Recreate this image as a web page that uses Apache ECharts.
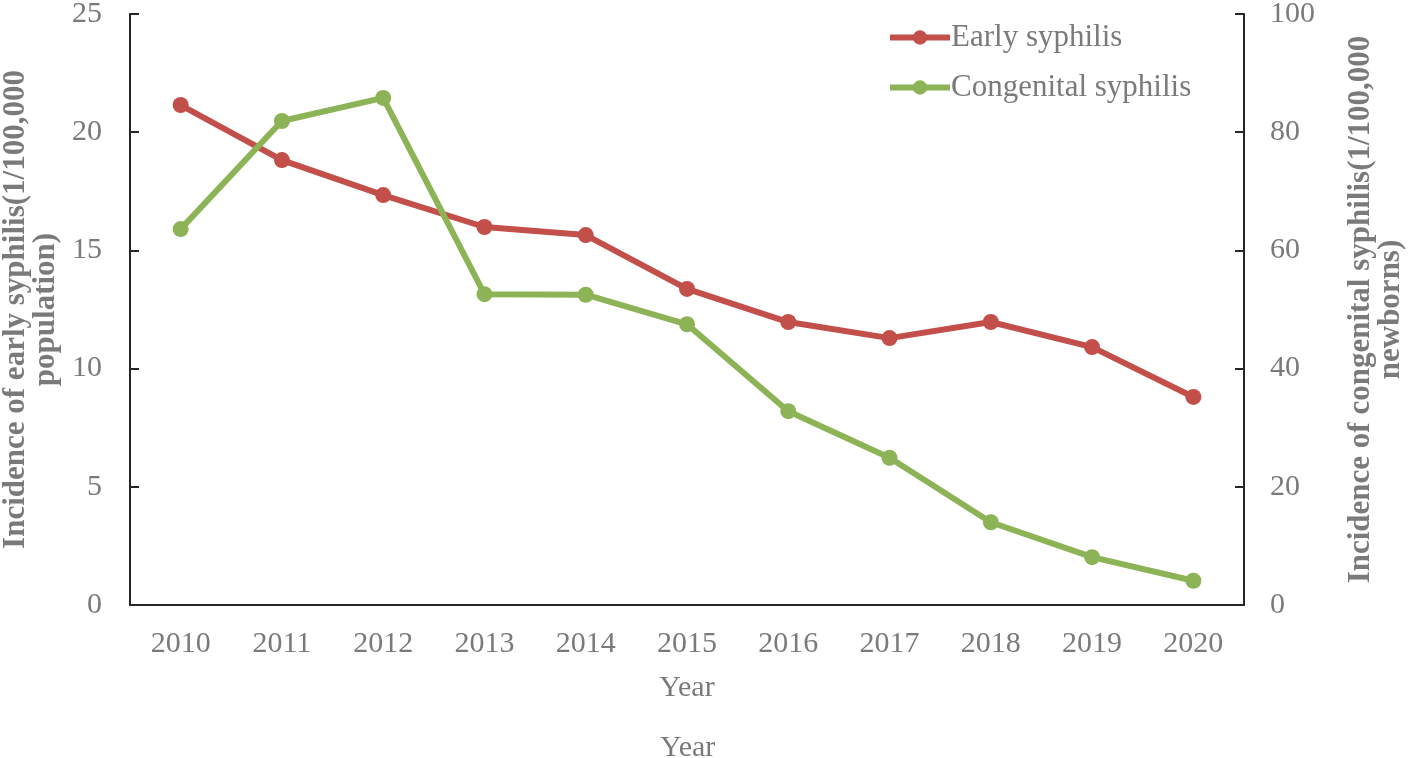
<!DOCTYPE html>
<html>
<head>
<meta charset="utf-8">
<script src="https://cdn.jsdelivr.net/npm/echarts@6/dist/echarts.min.js"></script>
<style>html,body{margin:0;padding:0;background:#fff;}#c{width:1408px;height:758px;}</style>
</head>
<body>
<div id="c"></div>
<script>
const years = ['2010','2011','2012','2013','2014','2015','2016','2017','2018','2019','2020'];
const earlySyphilis = [21.15, 18.82, 17.34, 15.99, 15.65, 13.37, 11.97, 11.29, 11.97, 10.91, 8.80];
const congenitalSyphilis = [63.6, 81.9, 85.8, 52.6, 52.5, 47.5, 32.8, 24.9, 14.0, 8.1, 4.1];
const leftTicks = {min: 0, max: 25, interval: 5};
const rightTicks = {min: 0, max: 100, interval: 20};

const FONT = '"Liberation Serif", "Times New Roman", serif';
const GRAY = '#7a7a7a';
const AXIS = '#262626';
const chart = echarts.init(document.getElementById('c'));
chart.setOption({
  animation: false,
  textStyle: {fontFamily: FONT},
  title: {
    text: 'Year', left: 660, top: 733, padding: 0,
    textStyle: {fontFamily: FONT, fontSize: 30, fontWeight: 'normal', color: GRAY}
  },
  legend: {
    orient: 'vertical', left: 882, top: 17,
    itemWidth: 60, itemHeight: 18, itemGap: 19,
    lineStyle: {width: 6},
    textStyle: {fontFamily: FONT, fontSize: 31, color: GRAY, lineHeight: 30, padding: [0,0,0,-4]},
    data: ['Early syphilis', 'Congenital syphilis']
  },
  grid: {left: 130, right: 164, top: 14, bottom: 153, outerBoundsMode: 'none', containLabel: false},
  xAxis: {
    type: 'category', data: years, boundaryGap: true,
    name: 'Year', nameLocation: 'middle', nameGap: 68,
    nameTextStyle: {fontFamily: FONT, fontSize: 30, color: GRAY},
    axisLine: {lineStyle: {color: AXIS, width: 2}},
    axisTick: {inside: true, length: 9, lineStyle: {color: AXIS, width: 2}, interval: 0},
    axisLabel: {fontFamily: FONT, fontSize: 30, color: GRAY, margin: 24, interval: 0},
    splitLine: {show: false}
  },
  yAxis: [{
    type: 'value', min: leftTicks.min, max: leftTicks.max, interval: leftTicks.interval,
    name: 'Incidence of early syphilis(1/100,000\npopulation)', nameLocation: 'middle', nameGap: 68, nameRotate: 90,
    nameTextStyle: {fontFamily: FONT, fontSize: 31, fontWeight: 'bold', color: GRAY, lineHeight: 30},
    axisLine: {show: true, lineStyle: {color: AXIS, width: 2}},
    axisTick: {show: true, inside: true, length: 9, lineStyle: {color: AXIS, width: 2}},
    axisLabel: {fontFamily: FONT, fontSize: 30, color: GRAY, margin: 28},
    splitLine: {show: false}
  }, {
    type: 'value', min: rightTicks.min, max: rightTicks.max, interval: rightTicks.interval, position: 'right',
    name: 'Incidence of congenital syphilis(1/100,000\nnewborns)', nameLocation: 'middle', nameGap: 102, nameRotate: 90,
    nameTextStyle: {fontFamily: FONT, fontSize: 31, fontWeight: 'bold', color: GRAY, lineHeight: 30},
    axisLine: {show: true, lineStyle: {color: AXIS, width: 2}},
    axisTick: {show: true, inside: true, length: 9, lineStyle: {color: AXIS, width: 2}},
    axisLabel: {fontFamily: FONT, fontSize: 30, color: GRAY, margin: 26},
    splitLine: {show: false}
  }],
  series: [{
    name: 'Early syphilis', type: 'line', yAxisIndex: 0, data: earlySyphilis,
    symbol: 'circle', symbolSize: 16,
    lineStyle: {color: '#C24F4A', width: 6}, itemStyle: {color: '#C24F4A'}
  }, {
    name: 'Congenital syphilis', type: 'line', yAxisIndex: 1, data: congenitalSyphilis,
    symbol: 'circle', symbolSize: 16,
    lineStyle: {color: '#8DB357', width: 6}, itemStyle: {color: '#8DB357'}
  }]
});
</script>
</body>
</html>
